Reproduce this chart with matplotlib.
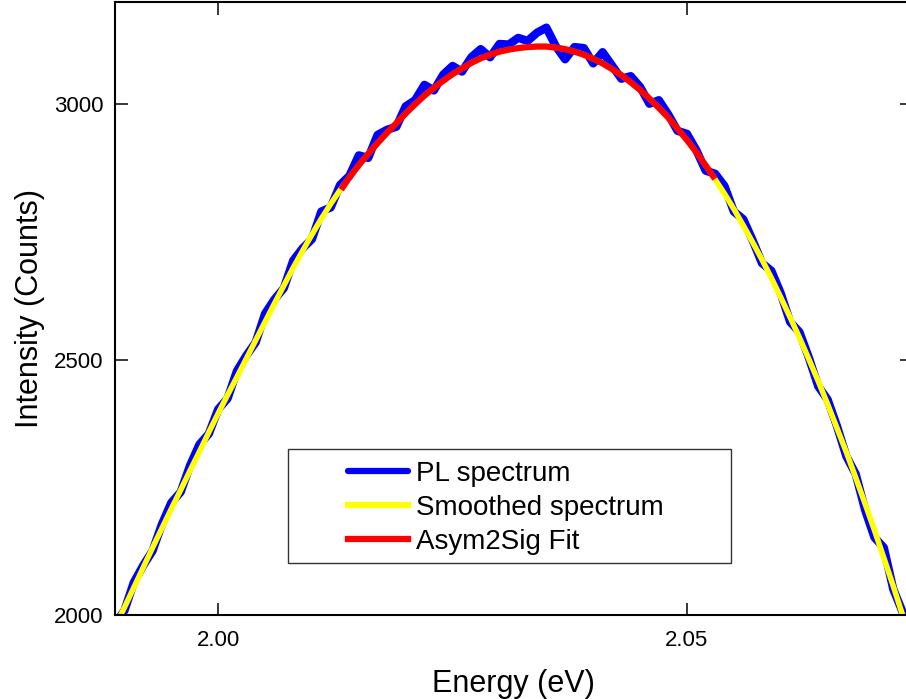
import matplotlib
matplotlib.use('Agg')
from matplotlib import pyplot as plt
from matplotlib.patches import Rectangle

plt.rcParams['font.family'] = ['Liberation Sans', 'DejaVu Sans']

# 能量 (eV), 0.001 步长
energy = [1.989, 1.990, 1.991, 1.992, 1.993, 1.994, 1.995, 1.996, 1.997, 1.998,
          1.999, 2.000, 2.001, 2.002, 2.003, 2.004, 2.005, 2.006, 2.007, 2.008,
          2.009, 2.010, 2.011, 2.012, 2.013, 2.014, 2.015, 2.016, 2.017, 2.018,
          2.019, 2.020, 2.021, 2.022, 2.023, 2.024, 2.025, 2.026, 2.027, 2.028,
          2.029, 2.030, 2.031, 2.032, 2.033, 2.034, 2.035, 2.036, 2.037, 2.038,
          2.039, 2.040, 2.041, 2.042, 2.043, 2.044, 2.045, 2.046, 2.047, 2.048,
          2.049, 2.050, 2.051, 2.052, 2.053, 2.054, 2.055, 2.056, 2.057, 2.058,
          2.059, 2.060, 2.061, 2.062, 2.063, 2.064, 2.065, 2.066, 2.067, 2.068,
          2.069, 2.070, 2.071, 2.072, 2.073, 2.074]

# PL 原始光谱 (带噪声)
pl_counts = [1983, 2009, 2064, 2097, 2126, 2178, 2220, 2241, 2293, 2334,
             2355, 2403, 2424, 2478, 2508, 2534, 2590, 2618, 2640, 2694,
             2718, 2736, 2790, 2798, 2842, 2860, 2900, 2895, 2940, 2950,
             2956, 2996, 3008, 3038, 3027, 3058, 3075, 3064, 3092, 3108,
             3092, 3118, 3117, 3130, 3124, 3140, 3150, 3114, 3088, 3112,
             3110, 3080, 3102, 3076, 3050, 3055, 3034, 3001, 3008, 2980,
             2948, 2942, 2910, 2870, 2864, 2840, 2790, 2775, 2734, 2689,
             2674, 2630, 2574, 2554, 2504, 2448, 2422, 2370, 2311, 2276,
             2206, 2152, 2132, 2051, 2006, 1939]

# 平滑后的光谱
smooth_counts = [1978, 2015, 2054, 2093, 2132, 2170, 2208, 2245, 2283, 2320,
                 2358, 2395, 2431, 2466, 2502, 2538, 2574, 2610, 2645, 2680,
                 2713, 2745, 2776, 2805, 2832, 2857, 2881, 2903, 2924, 2944,
                 2963, 2982, 3000, 3017, 3032, 3046, 3059, 3070, 3081, 3090,
                 3097, 3103, 3107, 3110, 3112, 3113, 3113, 3111, 3108, 3103,
                 3097, 3089, 3080, 3069, 3057, 3043, 3028, 3011, 2993, 2974,
                 2952, 2930, 2906, 2880, 2853, 2825, 2795, 2763, 2730, 2696,
                 2660, 2622, 2583, 2543, 2501, 2458, 2413, 2366, 2319, 2269,
                 2218, 2166, 2112, 2057, 2000, 1942]

# Asym2Sig 拟合区间
fit_energy = [2.0133, 2.014, 2.015, 2.016, 2.017, 2.018, 2.019, 2.020, 2.021,
              2.022, 2.023, 2.024, 2.025, 2.026, 2.027, 2.028, 2.029, 2.030,
              2.031, 2.032, 2.033, 2.034, 2.035, 2.036, 2.037, 2.038, 2.039,
              2.040, 2.041, 2.042, 2.043, 2.044, 2.045, 2.046, 2.047, 2.048,
              2.049, 2.050, 2.051, 2.052, 2.0528]
fit_counts = [2838, 2857, 2881, 2903, 2924, 2944, 2963, 2982, 3000,
              3017, 3032, 3046, 3059, 3070, 3081, 3090, 3097, 3103,
              3107, 3110, 3112, 3113, 3113, 3111, 3108, 3103, 3097,
              3089, 3080, 3069, 3057, 3043, 3028, 3011, 2993, 2974,
              2952, 2930, 2906, 2880, 2859]

fig = plt.figure(figsize=(9.06, 6.99), dpi=100)
ax = fig.add_axes([0.127, 0.120, 1.0066 - 0.127, 0.997 - 0.120])

ax.plot(energy, pl_counts, c='#0000ff', lw=6, solid_capstyle='round',
        solid_joinstyle='round', label='PL spectrum')
ax.plot(energy, smooth_counts, c='#ffff00', lw=4, label='Smoothed spectrum')
ax.plot(fit_energy, fit_counts, c='#ff0000', lw=4.5, label='Asym2Sig Fit')

ax.set_xlim(1.989, 2.074)
ax.set_ylim(2000, 3200)
ax.set_xticks([2.00, 2.05])
ax.set_xticklabels(['2.00', '2.05'])
ax.set_yticks([2000, 2500, 3000])

ax.tick_params(axis='both', which='major', direction='in', length=9, width=1.1,
               labelsize=16, top=True, right=True)
ax.tick_params(axis='x', pad=11)
ax.tick_params(axis='y', pad=8.5)
for sp in ax.spines.values():
    sp.set_linewidth(1.5)

ax.set_xlabel('Energy (eV)', fontsize=22, labelpad=13)
ax.set_ylabel('Intensity (Counts)', fontsize=22, labelpad=6)

# 图例 (单独画框)
fig.patches.append(Rectangle((288 / 906, 1 - 563 / 699), 443 / 906, 114 / 699,
                             transform=fig.transFigure, fill=False,
                             edgecolor='#333333', lw=1.0, zorder=5))
leg = fig.legend(loc='upper left', bbox_to_anchor=(348 / 906, 1 - 461 / 699),
                 frameon=False, fontsize=20, handlelength=2.15,
                 handletextpad=0.3, labelspacing=0.29, borderpad=0,
                 borderaxespad=0)
for line in leg.get_lines():
    line.set_linewidth(4.5)

fig.savefig('out.png', dpi=100)
